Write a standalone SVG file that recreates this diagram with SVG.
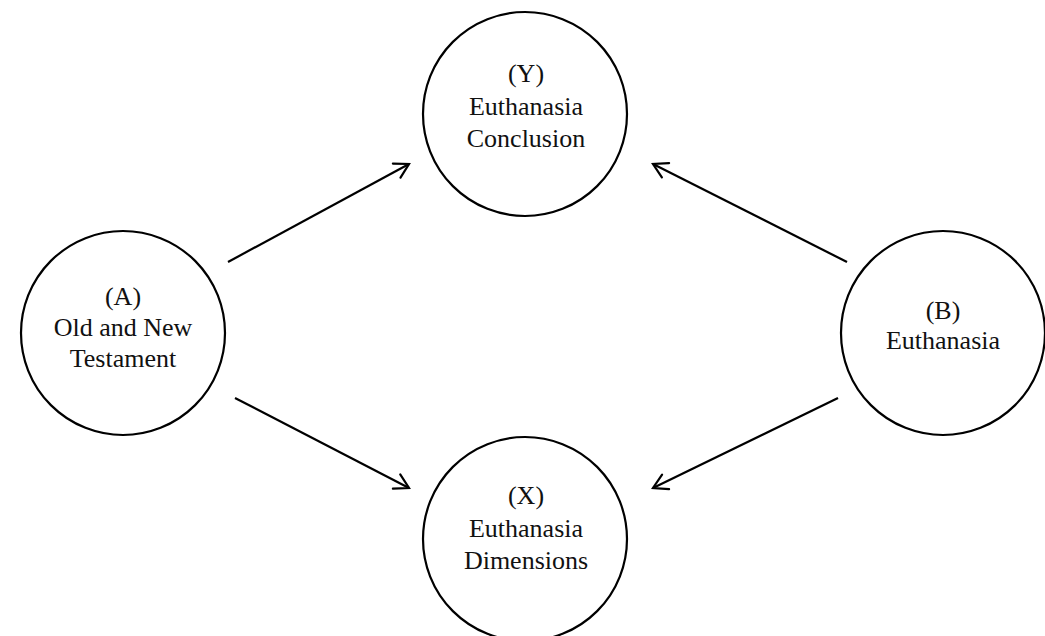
<svg xmlns="http://www.w3.org/2000/svg" width="1045" height="636" viewBox="0 0 1045 636">
<style>
.node circle{fill:#fff;stroke:#000;stroke-width:2.2}
.node text{font-family:"Liberation Serif","Times New Roman",serif;font-size:26px;fill:#111;text-anchor:middle}
.conn line{stroke:#000;stroke-width:2.2;fill:none}
</style>
<defs>
<marker id="arr" markerUnits="userSpaceOnUse" markerWidth="20" markerHeight="20" viewBox="-16 -10 20 20" refX="0" refY="0" orient="auto">
<path d="M-14,-8 L0,0 L-14,8" fill="none" stroke="#000" stroke-width="2.2" stroke-linecap="round" stroke-linejoin="miter"/>
</marker>
</defs>
<rect width="1045" height="636" fill="#fff"/>
<g id="connectors" class="conn">
<line x1="228" y1="262" x2="409" y2="164" marker-end="url(#arr)"/>
<line x1="847" y1="262" x2="653" y2="164" marker-end="url(#arr)"/>
<line x1="235" y1="398" x2="409" y2="488" marker-end="url(#arr)"/>
<line x1="838" y1="398" x2="653" y2="488" marker-end="url(#arr)"/>
</g>
<g id="nodeY" class="node">
<circle cx="525" cy="114" r="102"/>
<text x="526" y="82">(Y)</text>
<text x="526" y="115">Euthanasia</text>
<text x="526" y="147">Conclusion</text>
</g>
<g id="nodeA" class="node">
<circle cx="123" cy="333" r="102"/>
<text x="123" y="305">(A)</text>
<text x="123" y="336">Old and New</text>
<text x="123" y="367">Testament</text>
</g>
<g id="nodeB" class="node">
<circle cx="943" cy="333" r="102"/>
<text x="943" y="319">(B)</text>
<text x="943" y="349">Euthanasia</text>
</g>
<g id="nodeX" class="node">
<circle cx="525" cy="539" r="102"/>
<text x="526" y="504">(X)</text>
<text x="526" y="537">Euthanasia</text>
<text x="526" y="569">Dimensions</text>
</g>
</svg>
